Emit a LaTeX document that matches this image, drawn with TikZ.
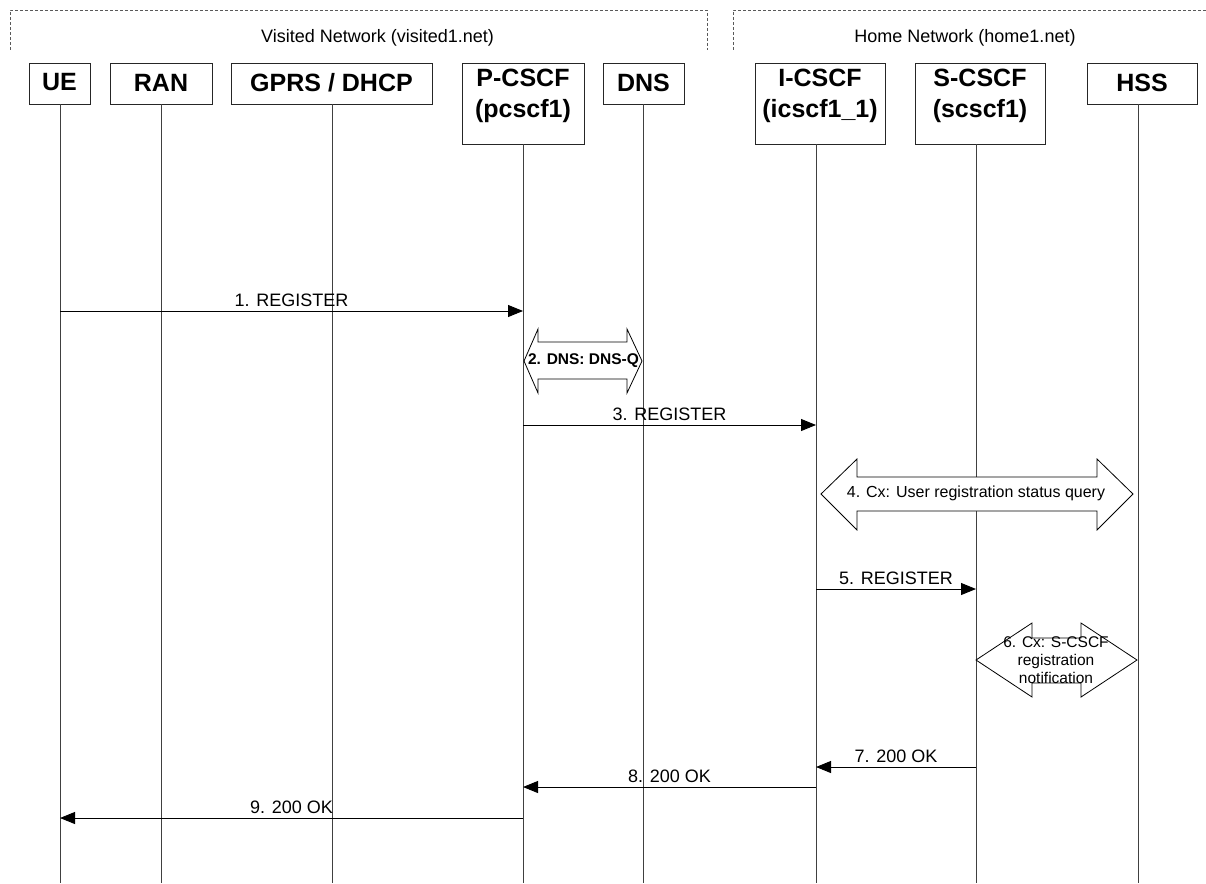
\documentclass[tikz,border=0pt]{standalone}
\usepackage{fontspec}
\setmainfont{Liberation Sans}
\usetikzlibrary{arrows.meta,calc}
\tikzset{
  hbox/.style={draw=black!85, line width=0.9pt, fill=white, inner sep=0pt},
  htxt/.style={font=\bfseries\fontsize{25}{31}\selectfont, align=center, inner sep=0pt},
  life/.style={draw=black!75, line width=0.8pt},
  msg/.style={line width=0.9pt, -{Triangle[length=15pt,width=12pt]}},
  lbl/.style={font=\fontsize{18}{20}\selectfont, inner sep=0pt},
  fat/.style={draw, line width=0.8pt, fill=white},
  frame/.style={draw=black!65, line width=0.6pt, dash pattern=on 3pt off 2pt},
}
\begin{document}
\begin{tikzpicture}[x=1pt,y=-1pt]
\useasboundingbox (0,0) rectangle (1206,883);
% network frames
\draw[frame] (10,50) -- (10,10) -- (707,10) -- (707,50);
\draw[frame] (733,50) -- (733,10) -- (1210,10);
\node[font=\fontsize{18}{20}\selectfont, inner sep=0pt] (vn) at (377.5,38) {Visited Network (visited1.net)};
\node[font=\fontsize{18}{20}\selectfont, inner sep=0pt] (hn) at (965,38) {Home Network (home1.net)};
% header boxes
\node[hbox, minimum width=61pt, minimum height=41pt] (ue) at (59.5,83.5) {};
\node[hbox, minimum width=102pt, minimum height=41pt] (ran) at (161,83.5) {};
\node[hbox, minimum width=201pt, minimum height=41pt] (gprs) at (331.5,83.5) {};
\node[hbox, minimum width=122pt, minimum height=81pt] (pc) at (523,103.5) {};
\node[hbox, minimum width=81pt, minimum height=41pt] (dns) at (643.5,83.5) {};
\node[hbox, minimum width=130pt, minimum height=81pt] (ic) at (820,103.5) {};
\node[hbox, minimum width=130pt, minimum height=81pt] (sc) at (980,103.5) {};
\node[hbox, minimum width=110pt, minimum height=41pt] (hss) at (1142,83.5) {};
\node[htxt] (ue-t) at (59.5,82.5) {UE};
\node[htxt] (ran-t) at (161,82.5) {RAN};
\node[htxt] (gprs-t) at (331.5,82.5) {GPRS / DHCP};
\node[htxt] (pc-t) at (523,96) {P-CSCF\\(pcscf1)};
\node[htxt] (dns-t) at (643.5,82.5) {DNS};
\node[htxt] (ic-t) at (820,96) {I-CSCF\\(icscf1\_1)};
\node[htxt] (sc-t) at (980,96) {S-CSCF\\(scscf1)};
\node[htxt] (hss-t) at (1142,82.5) {HSS};
% lifelines
\coordinate (ue-l) at (60,104);
\coordinate (ran-l) at (161,104);
\coordinate (gprs-l) at (332,104);
\coordinate (pc-l) at (523,144);
\coordinate (dns-l) at (643,104);
\coordinate (ic-l) at (816,144);
\coordinate (sc-l) at (976,144);
\coordinate (hss-l) at (1138,104);
\foreach \n in {ue,ran,gprs,pc,dns,ic,sc,hss}{
  \coordinate (\n-end) at (\n-l |- 0,883);
  \draw[life] (\n-l) -- (\n-end);
}
% 1. REGISTER
\draw[msg] (ue-l |- 0,311) -- (pc-l |- 0,311) node[lbl, midway, above=4pt] {1. REGISTER};
% 2. DNS double arrow
\draw[fat] (524,361) -- (538,329) -- (538,342) -- (627,342) -- (627,329) -- (642,361)
  -- (627,393) -- (627,379) -- (538,379) -- (538,393) -- cycle;
\node[font=\bfseries\fontsize{15.5}{17}\selectfont, inner sep=0pt] (m2) at (583.5,361) {2. DNS: DNS-Q};
% 3. REGISTER
\draw[msg] (pc-l |- 0,425) -- (ic-l |- 0,425) node[lbl, midway, above=4pt] {3. REGISTER};
% 4. Cx
\draw[fat] (821,494) -- (857,459) -- (857,477) -- (1097,477) -- (1097,459) -- (1133,494)
  -- (1097,530) -- (1097,511) -- (857,511) -- (857,530) -- cycle;
\node[font=\fontsize{16}{18}\selectfont, inner sep=0pt] (m4) at (976,493) {4. Cx: User registration status query};
% 5. REGISTER
\draw[msg] (ic-l |- 0,589) -- (sc-l |- 0,589) node[lbl, midway, above=4pt] {5. REGISTER};
% 6. Cx
\draw[fat] (976,660) -- (1032,623) -- (1032,638) -- (1081,638) -- (1081,623) -- (1137,660)
  -- (1081,697) -- (1081,683) -- (1032,683) -- (1032,697) -- cycle;
\node[align=center, font=\fontsize{15.5}{18}\selectfont, inner sep=0pt] (m6) at (1056,660) {6. Cx: S-CSCF\\registration\\notification};
% 7-9 200 OK
\draw[msg] (sc-l |- 0,767) -- (ic-l |- 0,767) node[lbl, midway, above=4pt] {7. 200 OK};
\draw[msg] (ic-l |- 0,787) -- (pc-l |- 0,787) node[lbl, midway, above=4pt] {8. 200 OK};
\draw[msg] (pc-l |- 0,818) -- (ue-l |- 0,818) node[lbl, midway, above=4pt] {9. 200 OK};
\end{tikzpicture}
\end{document}
